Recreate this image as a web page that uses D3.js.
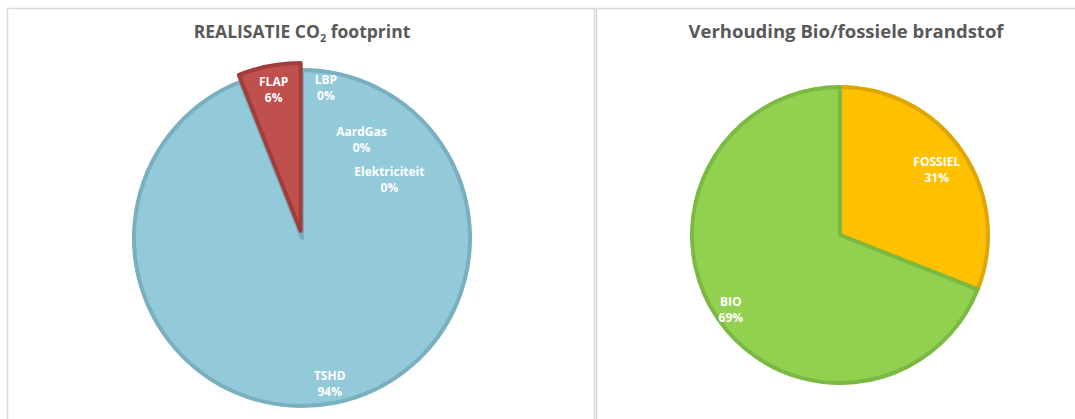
<!DOCTYPE html>
<html>
<head>
<meta charset="utf-8">
<script src="https://cdn.jsdelivr.net/npm/d3@7"></script>
<style>
  body { margin: 0; background: #fff; }
  svg { display: block; font-family: "Open Sans", sans-serif; }
</style>
</head>
<body>
<div id="chart"></div>
<script>
// left chart: CO2 footprint
const co2Labels = ['LBP', 'AardGas', 'Elektriciteit', 'TSHD', 'FLAP'];
const co2Values = [0, 0, 0, 94, 6];
const co2Fill = ['#93CADA', '#93CADA', '#93CADA', '#93CADA', '#C0504D'];
const co2Stroke = ['#7AAFBF', '#7AAFBF', '#7AAFBF', '#7AAFBF', '#A13D3A'];
const co2Explode = [0, 0, 0, 0, 7];

// right chart: bio vs fossil
const fuelLabels = ['FOSSIEL', 'BIO'];
const fuelValues = [31, 69];
const fuelFill = ['#FFC000', '#92D050'];
const fuelStroke = ['#E0A600', '#7BB942'];

const width = 1075;
const height = 419;

const svg = d3.select('#chart')
  .append('svg')
  .attr('width', width)
  .attr('height', height);

// panel frames
svg.append('rect')
  .attr('x', 7.5).attr('y', 8.5)
  .attr('width', 587).attr('height', 420)
  .attr('fill', 'none').attr('stroke', '#D9D9D9').attr('stroke-width', 1.5);
svg.append('rect')
  .attr('x', 596.5).attr('y', 8.5)
  .attr('width', 490).attr('height', 420)
  .attr('fill', 'none').attr('stroke', '#D9D9D9').attr('stroke-width', 1.5);

// titles
const t1 = svg.append('text')
  .attr('x', 302).attr('y', 38)
  .attr('text-anchor', 'middle')
  .attr('font-size', 17.5).attr('font-weight', 700)
  .attr('fill', '#595959');
t1.append('tspan').text('REALISATIE CO');
t1.append('tspan').text('2').attr('font-size', 11).attr('dy', 4);
t1.append('tspan').text(' footprint').attr('dy', -4);

svg.append('text')
  .attr('x', 846).attr('y', 38)
  .attr('text-anchor', 'middle')
  .attr('font-size', 18.5).attr('font-weight', 700)
  .attr('fill', '#595959')
  .text('Verhouding Bio/fossiele brandstof');

function drawPie(g, labels, values, fills, strokes, r, explode, labelPos) {
  const items = labels.map((name, i) => ({ name, value: values[i], i }));
  const pie = d3.pie().sort(null).value((d) => d.value);
  const arcs = pie(items);
  const arc = d3.arc().innerRadius(0).outerRadius(r - 2);

  const shift = (d) => {
    const off = explode ? explode[d.data.i] : 0;
    const mid = (d.startAngle + d.endAngle) / 2;
    return `translate(${Math.sin(mid) * off}, ${-Math.cos(mid) * off})`;
  };

  g.append('g').selectAll('path')
    .data(arcs.filter((d) => d.value > 0))
    .join('path')
    .attr('transform', shift)
    .attr('d', arc)
    .attr('fill', (d) => fills[d.data.i])
    .attr('stroke', (d) => strokes[d.data.i])
    .attr('stroke-width', 4)
    .attr('stroke-linejoin', 'round');

  // labels on top: centroid at a fraction of radius, zero slices get a shifted angle
  const labelLayer = g.append('g');
  arcs.forEach((d) => {
    const lp = labelPos[d.data.i];
    const a = lp.angle !== undefined ? lp.angle * Math.PI / 180 : (d.startAngle + d.endAngle) / 2;
    const rr = r * lp.k;
    const x = Math.sin(a) * rr;
    const txt = labelLayer.append('text')
      .attr('transform', shift(d))
      .attr('y', -Math.cos(a) * rr)
      .attr('text-anchor', 'middle')
      .attr('font-size', 12)
      .attr('font-weight', 700)
      .attr('fill', '#fff');
    txt.append('tspan').attr('x', x).attr('dy', -3).text(d.data.name);
    txt.append('tspan').attr('x', x).attr('dy', 16)
      .text(d3.format('.0%')(d.data.value / 100));
  });
}

const g1 = svg.append('g').attr('transform', 'translate(302, 238)');
drawPie(g1, co2Labels, co2Values, co2Fill, co2Stroke, 170, co2Explode, [
  { k: 0.9, angle: 9 },
  { k: 0.68, angle: 31 },
  { k: 0.62, angle: 56 },
  { k: 0.87 },
  { k: 0.85 },
]);

const g2 = svg.append('g').attr('transform', 'translate(840, 235)');
drawPie(g2, fuelLabels, fuelValues, fuelFill, fuelStroke, 150, null, [
  { k: 0.78 },
  { k: 0.88 },
]);
</script>
</body>
</html>
